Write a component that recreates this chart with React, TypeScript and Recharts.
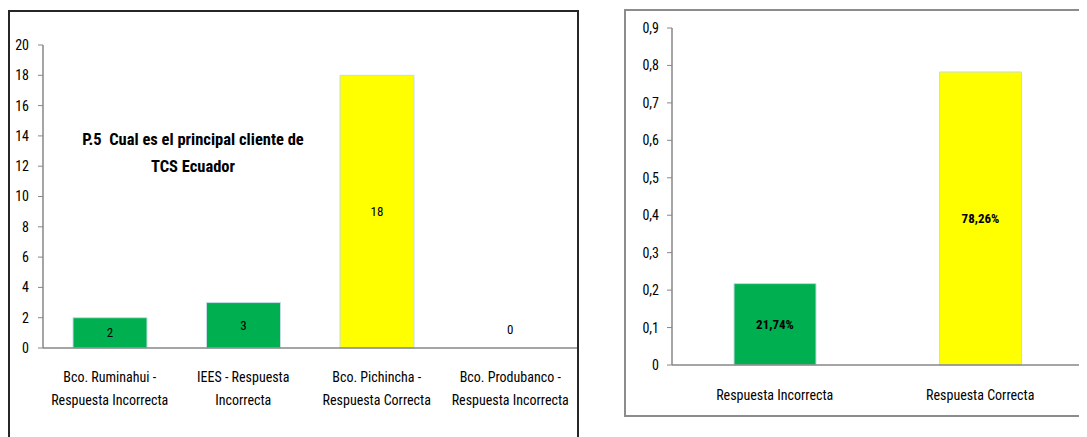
import React from "react";
import { BarChart, Bar, XAxis, YAxis, Cell, ReferenceDot } from "recharts";

// P.5 - counts per answer
const clientCategories = [
  "Bco. Ruminahui  -\nRespuesta Incorrecta",
  "IEES - Respuesta\nIncorrecta",
  "Bco. Pichincha -\nRespuesta Correcta",
  "Bco. Produbanco -\nRespuesta Incorrecta",
];
const clientCounts = [2, 3, 18, 0];
const clientTicks = [0, 2, 4, 6, 8, 10, 12, 14, 16, 18, 20];

// share of correct / incorrect
const answerCategories = ["Respuesta Incorrecta", "Respuesta Correcta"];
const answerShares = [0.2174, 0.7826];
const answerTicks = [0, 0.1, 0.2, 0.3, 0.4, 0.5, 0.6, 0.7, 0.8, 0.9];

const clientColors = ["#00B050", "#00B050", "#FFFF00", "#00B050"];
const answerColors = ["#00B050", "#FFFF00"];

const FONT = "'Liberation Sans Narrow', 'Roboto Condensed', Roboto, sans-serif";
const AXIS = "#878787";
const BAR_EDGE = "#c4dce4";

const clientData = clientCategories.map((name, i) => ({ name, value: clientCounts[i] }));
const answerData = answerCategories.map((name, i) => ({ name, value: answerShares[i] }));

function MultiLineTick(props: any) {
  const { x, y, payload, dy, lineHeight } = props;
  const lines = String(payload.value).split("\n");
  return (
    <text x={x} y={y} textAnchor="middle" fill="#000" fontSize={14} fontFamily={FONT}>
      {lines.map((l, i) => (
        <tspan key={i} x={x} dy={i === 0 ? dy : lineHeight}>
          {l}
        </tspan>
      ))}
    </text>
  );
}

const countLabel = (props: any) => {
  const { x, y, width, height, value } = props;
  return (
    <text x={x + width / 2} y={y + height / 2} textAnchor="middle" dominantBaseline="central" fontSize={13} fontFamily={FONT} fill="#000">
      {String(value)}
    </text>
  );
};

// zero-height bars get no label from the Bar, so Excel-style "0" sits just above the axis
const zeroLabel = (props: any) => {
  const { viewBox } = props;
  return (
    <text x={viewBox.x + viewBox.width / 2} y={viewBox.y - 19} textAnchor="middle" dominantBaseline="central" fontSize={13} fontFamily={FONT} fill="#000">
      0
    </text>
  );
};

const shareLabel = (props: any) => {
  const { x, y, width, height, value } = props;
  return (
    <text x={x + width / 2} y={y + height / 2} textAnchor="middle" dominantBaseline="central" fontSize={13} fontWeight="bold" fontFamily={FONT} fill="#000">
      {(value * 100).toFixed(2).replace(".", ",") + "%"}
    </text>
  );
};

const commaTick = (v: number) => (v === 0 ? "0" : v.toFixed(1).replace(".", ","));

export default function App() {
  return (
    <div style={{ position: "relative", width: 1079, height: 429, overflow: "hidden", fontFamily: FONT }}>
      <div
        style={{
          position: "absolute",
          left: 0,
          top: 2,
          width: 567,
          height: 440,
          border: "2px solid #262626",
          borderBottom: "none",
        }}
      >
        <BarChart width={567} height={425} data={clientData} margin={{ top: 33, right: 0, bottom: 0, left: 0 }}>
          <XAxis
            xAxisId="a"
            type="number"
            domain={[0, 4]}
            ticks={[0, 1, 2, 3, 4]}
            allowDataOverflow
            tick={false}
            tickSize={5}
            height={5}
            axisLine={{ stroke: AXIS, strokeWidth: 1.5 }}
            tickLine={{ stroke: AXIS }}
          />
          <XAxis
            xAxisId="b"
            dataKey="name"
            interval={0}
            height={84}
            axisLine={false}
            tickLine={false}
            tickSize={0}
            tickMargin={0}
            tick={<MultiLineTick dy={29} lineHeight={23} />}
          />
          <YAxis
            width={33}
            domain={[0, 20]}
            ticks={clientTicks}
            interval={0}
            tickSize={5}
            tickMargin={9}
            axisLine={{ stroke: AXIS, strokeWidth: 1.5 }}
            tickLine={{ stroke: AXIS }}
            tick={{ fill: "#000", fontSize: 14, fontFamily: FONT }}
          />
          <Bar
            xAxisId="b"
            dataKey="value"
            barSize={74}
            stroke={BAR_EDGE}
            strokeWidth={1}
            isAnimationActive={false}
            label={countLabel}
          >
            {clientData.map((d, i) => (
              <Cell key={d.name} fill={clientColors[i]} />
            ))}
          </Bar>
          {clientData
            .filter((d) => d.value === 0)
            .map((d) => (
              <ReferenceDot key={d.name} xAxisId="b" x={d.name} y={d.value} r={0} stroke="none" fill="none" label={zeroLabel} />
            ))}
        </BarChart>
        <div
          style={{
            position: "absolute",
            left: 53,
            top: 114,
            width: 260,
            textAlign: "center",
            fontWeight: "bold",
            fontSize: 16.5,
            lineHeight: "27px",
            color: "#000",
          }}
        >
          P.5&nbsp;&nbsp;Cual es el principal cliente de
          <br />
          TCS Ecuador
        </div>
      </div>

      <div
        style={{
          position: "absolute",
          left: 616,
          top: 1,
          width: 458,
          height: 404,
          border: "2px solid #8c8c8c",
        }}
      >
        <BarChart width={458} height={404} data={answerData} margin={{ top: 17, right: 1, bottom: 0, left: 0 }}>
          <XAxis
            xAxisId="a"
            type="number"
            domain={[0, 2]}
            ticks={[0, 1, 2]}
            allowDataOverflow
            tick={false}
            tickSize={5}
            height={5}
            axisLine={{ stroke: AXIS, strokeWidth: 1.5 }}
            tickLine={{ stroke: AXIS }}
          />
          <XAxis
            xAxisId="b"
            dataKey="name"
            interval={0}
            height={45}
            axisLine={false}
            tickLine={false}
            tickSize={0}
            tickMargin={0}
            tick={<MultiLineTick dy={30} lineHeight={23} />}
          />
          <YAxis
            width={46}
            domain={[0, 0.9]}
            ticks={answerTicks}
            interval={0}
            tickSize={5}
            tickMargin={8}
            tickFormatter={commaTick}
            axisLine={{ stroke: AXIS, strokeWidth: 1.5 }}
            tickLine={{ stroke: AXIS }}
            tick={{ fill: "#000", fontSize: 14, fontFamily: FONT }}
          />
          <Bar
            xAxisId="b"
            dataKey="value"
            barSize={82}
            stroke={BAR_EDGE}
            strokeWidth={1}
            isAnimationActive={false}
            label={shareLabel}
          >
            {answerData.map((d, i) => (
              <Cell key={d.name} fill={answerColors[i]} />
            ))}
          </Bar>
        </BarChart>
      </div>
    </div>
  );
}
